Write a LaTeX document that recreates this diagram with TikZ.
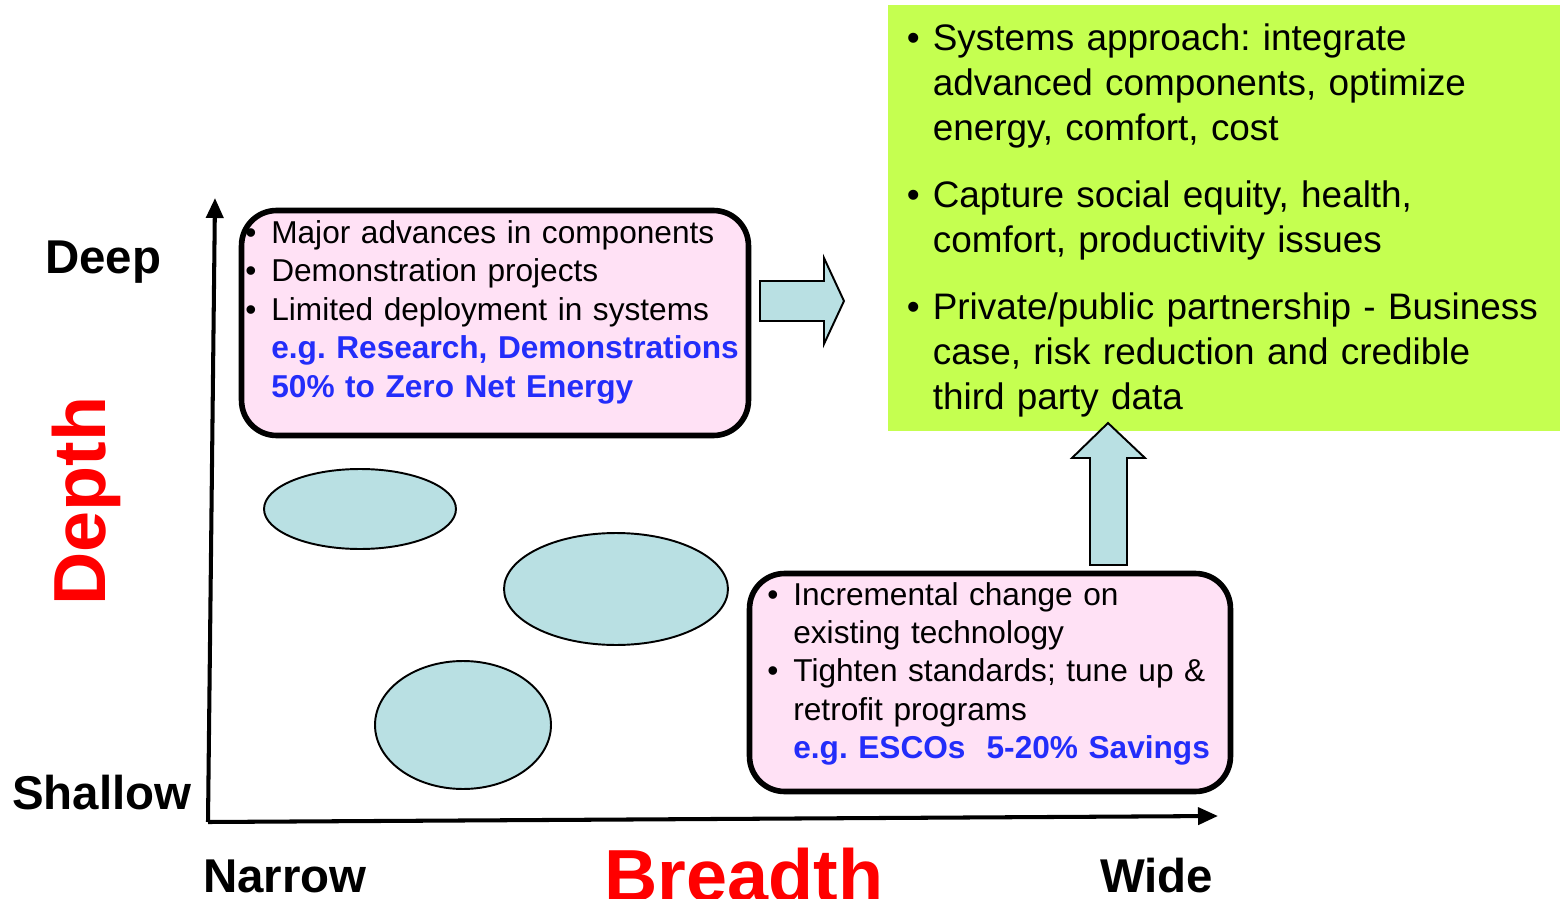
\documentclass[tikz,border=0pt]{standalone}
\usepackage{fontspec}
\setmainfont{Liberation Sans}
\usetikzlibrary{arrows.meta,shapes.geometric}
\frenchspacing

\definecolor{boxpink}{RGB}{255,225,245}
\definecolor{limegreen}{RGB}{197,255,80}
\definecolor{paleblue}{RGB}{185,224,227}
\definecolor{egblue}{RGB}{35,45,250}
\definecolor{axisred}{RGB}{255,0,0}

\newcommand{\bulletmark}{\makebox[0.52cm][l]{\textbullet}}
\newcommand{\bulletgap}{\hspace*{0.52cm}}
\newcommand{\eg}[1]{\textcolor{egblue}{\bfseries #1}}

\tikzstyle{roundbox} = [draw=black, fill=boxpink, line width=3.2pt, rounded corners=0.7cm, inner sep=0pt]
\tikzstyle{bubble} = [ellipse, draw=black, fill=paleblue, line width=1.1pt, inner sep=0pt]
\tikzstyle{blockarrow} = [draw=black, fill=paleblue, line width=1.1pt]
\tikzstyle{boxtext} = [anchor=base west, inner sep=0pt, text width=12cm, align=left, font=\fontsize{18}{21.9}\selectfont]
\tikzstyle{greentext} = [anchor=base west, inner sep=0pt, text width=13cm, align=left, font=\fontsize{21}{25.6}\selectfont]
\tikzstyle{scale label} = [anchor=base west, inner sep=0pt, font=\fontsize{27}{30}\selectfont\bfseries]
\tikzstyle{axis name} = [anchor=base west, inner sep=0pt, text=axisred, font=\fontsize{42}{46}\selectfont\bfseries]
\tikzstyle{axis} = [line width=2.3pt, -{Triangle[length=0.4cm,width=0.34cm]}]

\begin{document}
\begin{tikzpicture}[x=0.02cm, y=-0.02cm]
  \useasboundingbox (0,0) rectangle (1560,899);

  % green result box
  \node[fill=limegreen, minimum width=13.44cm, minimum height=8.52cm, inner sep=0pt] (goal) at (1224,218) {};
  \node[greentext] (goaltext) at (906.5,51) {%
    \bulletmark Systems approach: integrate\\
    \bulletgap advanced components, optimize\\
    \bulletgap energy, comfort, cost\\[0.44cm]
    \bulletmark Capture social equity, health,\\
    \bulletgap comfort, productivity issues\\[0.44cm]
    \bulletmark Private/public partnership - Business\\
    \bulletgap case, risk reduction and credible\\
    \bulletgap third party data};

  % axes
  \coordinate (origin) at (208,822);
  \coordinate (ytip) at (215,198);
  \coordinate (xtip) at (1218,816);
  \draw[axis] (origin) -- (ytip);
  \draw[axis] (origin) -- (xtip);

  \node[scale label] (deep) at (45,273) {Deep};
  \node[scale label] (shallow) at (12,809) {Shallow};
  \node[scale label] (narrow) at (203,892) {Narrow};
  \node[scale label] (wide) at (1100,892) {Wide};
  \node[axis name] (breadth) at (604,901) {Breadth};
  \node[axis name, rotate=90] (depth) at (105,606) {Depth};

  % deep box
  \node[roundbox, minimum width=10.14cm, minimum height=4.5cm] (deepbox) at (495,323) {};
  \node[boxtext] (deeptext) at (245,243.5) {%
    \bulletmark Major advances in components\\
    \bulletmark Demonstration projects\\
    \bulletmark Limited deployment in systems\\
    \bulletgap\eg{e.g. Research, Demonstrations}\\
    \bulletgap\eg{50\% to Zero Net Energy}};

  % shallow box
  \node[roundbox, minimum width=9.62cm, minimum height=4.36cm] (widebox) at (990,682.5) {};
  \node[boxtext] (widetext) at (767,605) {%
    \bulletmark Incremental change on\\
    \bulletgap existing technology\\
    \bulletmark Tighten standards; tune up \&\\
    \bulletgap retrofit programs\\
    \bulletgap\eg{e.g. ESCOs\ \ 5-20\% Savings}};

  % bubbles
  \node[bubble, minimum width=3.84cm, minimum height=1.6cm] (b1) at (360,509) {};
  \node[bubble, minimum width=4.48cm, minimum height=2.24cm] (b2) at (616,589) {};
  \node[bubble, minimum width=3.52cm, minimum height=2.56cm] (b3) at (463,725) {};

  % block arrows
  \filldraw[blockarrow] (760,281) -- (824,281) -- (824,258) -- (844,301) -- (824,344) -- (824,321) -- (760,321) -- cycle;
  \filldraw[blockarrow] (1090,565) -- (1090,458) -- (1072,458) -- (1108,423) -- (1145,458) -- (1127,458) -- (1127,565) -- cycle;

\end{tikzpicture}
\end{document}
